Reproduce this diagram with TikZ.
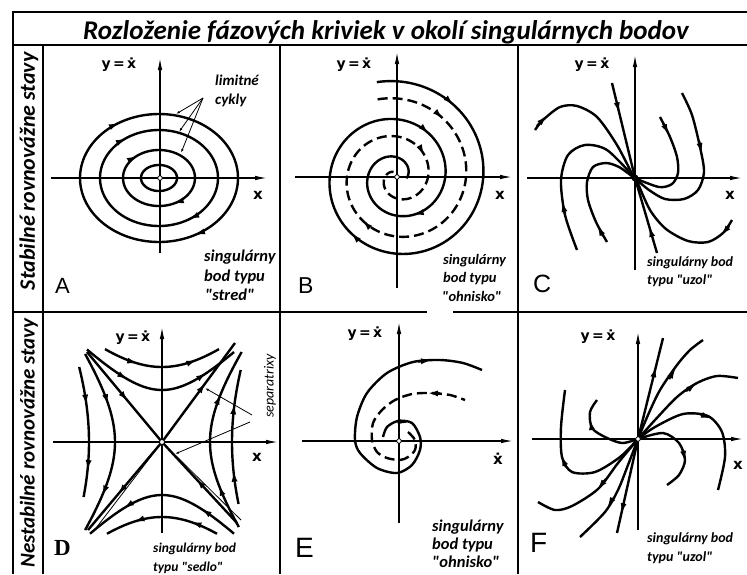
\documentclass[tikz,border=0pt]{standalone}
\usepackage{fontspec}
\setmainfont{Carlito}
\newfontfamily\axfont{DejaVu Sans}
\newfontfamily\letfont{Liberation Sans}
\newfontfamily\serfont{Liberation Serif}
\usetikzlibrary{arrows.meta,decorations.markings}
\newcommand\qq{\textquotedbl}
\begin{document}
\begin{tikzpicture}[x=1pt,y=-1pt]
\tikzset{
  frame/.style={line width=2pt},
  axis/.style={line width=1.2pt,-{Latex[length=12pt,width=4.5pt]}},
  traj/.style={line width=2.4pt},
  dsh/.style={dash pattern=on 10pt off 5pt},
  pointer/.style={line width=0.8pt,-{Latex[length=4pt,width=2.5pt]}},
  tipseg/.style={line width=2.4pt,-{Latex[length=11pt,width=6pt]}},
  ar/.style={postaction={decorate,decoration={markings,mark=at position #1 with {\arrow{Latex[length=11pt,width=6pt]}}}}},
  rar/.style={postaction={decorate,decoration={markings,mark=at position #1 with {\arrowreversed{Latex[length=11pt,width=6pt]}}}}},
  lbl/.style={font=\fontsize{#1}{#1}\selectfont\bfseries\itshape, inner sep=0pt, anchor=base west},
  axlbl/.style={font=\axfont\bfseries\fontsize{14}{14}\selectfont, inner sep=0pt},
  xlbl/.style={font=\axfont\bfseries\fontsize{15}{15}\selectfont, inner sep=0pt},
  letter/.style={font=\letfont\fontsize{#1}{#1}\selectfont, inner sep=0pt, anchor=base west},
  rowlbl/.style={font=\fontsize{#1}{#1}\selectfont\bfseries\itshape, rotate=90, inner sep=0pt, anchor=east},
  orig/.style={fill=white, draw, line width=0.8pt}
}
\useasboundingbox (0,0) rectangle (747,574);
\fill[white] (0,0) rectangle (747,574);

% ---------- frame ----------
\draw[frame] (13,574) -- (13,12) -- (747,12);
\draw[frame] (13,45) -- (747,45);
\draw[frame] (13,312) -- (427,312);
\draw[frame] (453,312) -- (747,312);
\draw[frame] (43,45) -- (43,574);
\draw[frame] (280,45) -- (280,574);
\draw[frame] (518,45) -- (518,574);

\node[font=\fontsize{27}{27}\selectfont\bfseries\itshape, inner sep=0pt, anchor=base] (title) at (386,39)
  {Rozloženie fázových kriviek v okolí singulárnych bodov};
\node[rowlbl=22] (row1) at (29,52) {Stabilné rovnovážne stavy};
\node[rowlbl=21] (row2) at (29,318) {Nestabilné rovnovážne stavy};

% ================= A =================
\coordinate (oA) at (160,178);
\coordinate (axAl) at (51,178); \coordinate (axAr) at (267,178);
\coordinate (axAb) at (160,253); \coordinate (axAt) at (160,58);
\draw[axis] (axAl) -- (axAr);
\draw[axis] (axAb) -- (axAt);
\draw[traj,ar=0.66,ar=0.17] plot[domain=0:360,samples=120] ({159+79*cos(\x)},{178+64*sin(\x)}) -- cycle;
\draw[traj,ar=0.65,ar=0.16] plot[domain=0:360,samples=120] ({159+59*cos(\x)},{178+48*sin(\x)}) -- cycle;
\draw[traj,ar=0.64,ar=0.18] plot[domain=0:360,samples=100] ({159+36*cos(\x)},{178+28*sin(\x)}) -- cycle;
\draw[traj] plot[domain=0:360,samples=80] ({159+18*cos(\x)},{178+13*sin(\x)}) -- cycle;
\draw[orig] (oA) circle (2.3);
\coordinate (limA) at (203,98);
\coordinate (limA1) at (176,114); \coordinate (limA2) at (179,132); \coordinate (limA3) at (181,153);
\draw[pointer] (limA) -- (limA1);
\draw[pointer] (limA) -- (limA2);
\draw[pointer] (limA) -- (limA3);
\node[lbl=15] (limA-t1) at (215,85) {limitné};
\node[lbl=15] (limA-t2) at (215,104) {cykly};
\node[axlbl] (yA) at (119,65) {y\,=\,ẋ};
\node[xlbl] (xA) at (258,195) {x};
\node[lbl=16.5] (lA1) at (204,261) {singulárny};
\node[lbl=16.5] (lA2) at (204,281) {bod typu};
\node[lbl=16.5] (lA3) at (205,300) {\qq stred\qq};
\node[letter=22] (letA) at (55,293) {A};

% ================= B =================
\coordinate (oB) at (397,177);
\coordinate (axBl) at (295,177); \coordinate (axBr) at (512,177);
\coordinate (axBb) at (397,288); \coordinate (axBt) at (397,52);
\draw[axis] (axBl) -- (axBr);
\draw[axis] (axBb) -- (axBt);
\draw[traj,ar=0.107,ar=0.442,ar=0.694,ar=0.824] plot[domain=0:830,samples=400]
  ({397+(97-0.105556*\x)*cos(102-\x)},{177-(97-0.105556*\x)*sin(102-\x)});
\draw[traj,dsh,ar=0.133,ar=0.518,ar=0.806] plot[domain=0:700,samples=400]
  ({397+(80-0.105556*\x)*cos(104-\x)},{177-(80-0.105556*\x)*sin(104-\x)});
\draw[orig] (oB) circle (2.3);
\node[axlbl] (yB) at (354,65) {y\,=\,ẋ};
\node[xlbl] (xB) at (500,195) {x};
\node[lbl=14.5] (lB1) at (443,264) {singulárny};
\node[lbl=14.5] (lB2) at (443,282) {bod typu};
\node[lbl=14.5] (lB3) at (442,301) {\qq ohnisko\qq};
\node[letter=23] (letB) at (298,293) {B};

% ================= C =================
\coordinate (oC) at (635,178);
\coordinate (axCl) at (527,178); \coordinate (axCr) at (742,178);
\coordinate (axCb) at (635,270); \coordinate (axCt) at (635,55);
\draw[axis] (axCl) -- (axCr);
\draw[axis] (axCb) -- (axCt);
\coordinate (c1) at (612,83); \coordinate (c2) at (657,253);
\draw[traj,ar=0.32] (c1) -- (oC);
\draw[traj,ar=0.36] (c2) -- (oC);
\draw[traj] plot[smooth] coordinates {(535,130) (543,120) (560,107) (577,106) (597,117) (617,145) (633,176)};
\draw[traj] plot[smooth] coordinates {(577,250) (565,215) (561,180) (568,155) (585,145) (607,150) (633,176)};
\draw[traj] plot[smooth] coordinates {(607,242) (596,222) (588,200) (587,182) (593,167) (606,163) (619,167) (633,177)};
\draw[traj] plot[smooth] coordinates {(732,220) (723,233) (708,242) (688,241) (666,229) (650,210) (637,181)};
\draw[traj] plot[smooth] coordinates {(682,93) (692,115) (700,147) (704,172) (698,190) (684,199) (665,199) (649,190) (637,180)};
\draw[traj] plot[smooth] coordinates {(660,117) (670,137) (677,157) (678,173) (672,184) (659,187) (637,179)};
\draw[tipseg] (537,126) -- (547,115);
\draw[tipseg] (565,214) -- (562,201);
\draw[tipseg] (603,236) -- (597,225);
\draw[tipseg] (729,226) -- (721,236);
\draw[tipseg] (699,141) -- (702,154);
\draw[tipseg] (663,123) -- (669,135);
\fill (oC) circle (3.5);
\node[axlbl] (yC) at (592,65) {y\,=\,ẋ};
\node[xlbl] (xC) at (730,195) {x};
\node[lbl=14] (lC1) at (647,266) {singulárny bod};
\node[lbl=14] (lC2) at (647,284) {typu \qq uzol\qq};
\node[letter=25] (letC) at (533,292) {C};

% ================= D =================
\coordinate (oD) at (162,442);
\coordinate (axDl) at (53,442); \coordinate (axDr) at (278,442);
\coordinate (axDb) at (162,533); \coordinate (axDt) at (162,327);
\draw[axis] (axDl) -- (axDr);
\draw[axis] (axDb) -- (axDt);
\draw[traj,ar=0.3,ar=0.8] plot[domain=-57:57,samples=40] ({162+\x},{442-75*sqrt(1+(\x/78)^2)});
\draw[traj,ar=0.3,ar=0.8] plot[domain=-75:72,samples=40] ({162+\x},{442-52*sqrt(1+(\x/51)^2)});
\draw[traj,rar=0.25,rar=0.75] plot[domain=-72:72,samples=40] ({162+\x},{442+53*sqrt(1+(\x/51)^2)});
\draw[traj,rar=0.25,rar=0.75] plot[domain=-55:55,samples=40] ({162+\x},{442+75*sqrt(1+(\x/78)^2)});
\draw[traj,ar=0.3,ar=0.8] plot[domain=-75:55,samples=40] ({162-73*sqrt(1+(\x/140)^2)},{442+\x});
\draw[traj,ar=0.3,ar=0.8] plot[domain=-88:88,samples=40] ({162-47*sqrt(1+(\x/68)^2)},{442+\x});
\draw[traj,rar=0.25,rar=0.75] plot[domain=-90:85,samples=40] ({162+48*sqrt(1+(\x/68)^2)},{442+\x});
\draw[traj,rar=0.25,rar=0.75] plot[domain=-72:62,samples=40] ({162+70*sqrt(1+(\x/140)^2)},{442+\x});
\coordinate (dTL) at (87,352); \coordinate (dBR) at (237,523);
\coordinate (dTR) at (235,343); \coordinate (dBL) at (88,530);
\draw[traj,ar=0.55] (dTL) -- (oD);
\draw[traj,ar=0.55] (dBR) -- (oD);
\draw[traj,ar=0.6] (oD) -- (dTR);
\draw[traj,ar=0.6] (oD) -- (dBL);
\coordinate (dBR2) at (241,520); \coordinate (dBL2) at (93,532);
\draw[line width=0.8pt] (oD) -- (dBR2);
\draw[line width=0.8pt] (oD) -- (dBL2);
\draw[orig] (oD) circle (2.5);
\coordinate (sepA) at (252,415); \coordinate (sep1) at (205,388);
\coordinate (sepB) at (250,422); \coordinate (sep2) at (175,454);
\draw[pointer] (sepA) -- (sep1);
\draw[pointer] (sepB) -- (sep2);
\node[font=\fontsize{14}{14}\selectfont\itshape, rotate=90, inner sep=0pt] (sepl) at (270,386) {separatrixy};
\node[axlbl] (yD) at (133,338) {y\,=\,ẋ};
\node[xlbl] (xD) at (257,457) {x};
\node[lbl=13.5] (lD1) at (153,552) {singulárny bod};
\node[lbl=13.5] (lD2) at (153,571) {typu \qq sedlo\qq};
\node[font=\serfont\bfseries\fontsize{23}{23}\selectfont, inner sep=0pt, anchor=base west] (letD) at (54,555) {D};

% ================= E =================
\coordinate (oE) at (399,441);
\coordinate (axEl) at (302,441); \coordinate (axEr) at (513,441);
\coordinate (axEb) at (399,523); \coordinate (axEt) at (399,322);
\draw[axis] (axEl) -- (axEr);
\draw[axis] (axEb) -- (axEt);
\draw[traj] plot[smooth] coordinates {(383,437) (387,427) (398,421) (412,423) (420,437) (420,450) (412,465) (397,473) (377,468) (360,453) (355,440) (357,417) (367,393) (387,373) (413,362) (440,360) (463,363) (482,370)};
\draw[traj,dsh] plot[smooth] coordinates {(408,432) (415,440) (415,450) (408,457) (400,460) (387,458) (377,452) (372,440) (373,423) (382,410) (395,400) (412,394) (430,393) (450,395) (465,400)};
\draw[tipseg] (397,421) -- (409,423);
\draw[tipseg] (418,361.5) -- (432,360.3);
\draw[tipseg] (440,393.5) -- (427,393);
\draw[orig] (oE) circle (2.3);
\node[axlbl] (yE) at (365,334) {y\,=\,ẋ};
\node[xlbl] (xE) at (498,459) {ẋ};
\node[lbl=16.5] (lE1) at (432,531) {singulárny};
\node[lbl=16.5] (lE2) at (432,549) {bod typu};
\node[lbl=16.5] (lE3) at (432,567) {\qq ohnisko\qq};
\node[letter=28] (letE) at (295,557) {E};

% ================= F =================
\coordinate (oF) at (638,439);
\coordinate (axFl) at (532,439); \coordinate (axFr) at (743,439);
\coordinate (axFb) at (638,530); \coordinate (axFt) at (638,332);
\draw[axis] (axFl) -- (axFr);
\draw[axis] (axFb) -- (axFt);
\coordinate (f1) at (663,338); \coordinate (f6) at (617,533);
\draw[traj,ar=0.72] (oF) -- (f1);
\draw[traj,ar=0.8] (oF) -- (f6);
\draw[traj] plot[smooth] coordinates {(638,439) (648,415) (660,390) (677,365) (690,350) (703,340)};
\draw[traj] plot[smooth] coordinates {(638,439) (655,420) (677,397) (697,383) (717,376) (738,378)};
\draw[traj] plot[smooth] coordinates {(638,439) (655,427) (683,414) (708,416) (722,432) (725,457) (718,490)};
\draw[traj] plot[smooth] coordinates {(638,439) (663,433) (679,443) (685,460) (679,475) (667,485)};
\draw[traj] plot[smooth] coordinates {(638,439) (628,465) (618,490) (605,512) (580,537)};
\draw[traj] plot[smooth] coordinates {(638,439) (618,463) (598,489) (572,506) (555,510) (538,502)};
\draw[traj] plot[smooth] coordinates {(638,439) (620,457) (595,472) (572,472) (562,457) (561,427) (565,390)};
\draw[traj] plot[smooth] coordinates {(638,439) (622,443) (605,437) (592,428) (590,412) (597,400)};
\draw[tipseg] (669,379) -- (676,368);
\draw[tipseg] (686,391) -- (697,383);
\draw[tipseg] (700,414) -- (712,419);
\draw[tipseg] (683,450) -- (685,462);
\draw[tipseg] (613,498) -- (607,508);
\draw[tipseg] (606,479) -- (597,490);
\draw[tipseg] (566,467) -- (561,455);
\draw[tipseg] (592,430) -- (590,419);
\draw[orig] (oF) circle (2.3);
\node[axlbl] (yF) at (598,337) {y\,=\,ẋ};
\node[xlbl] (xF) at (738,465) {x};
\node[lbl=14] (lF1) at (647,542) {singulárny bod};
\node[lbl=14] (lF2) at (647,561) {typu \qq uzol\qq};
\node[letter=28] (letF) at (530,552) {F};
\end{tikzpicture}
\end{document}
